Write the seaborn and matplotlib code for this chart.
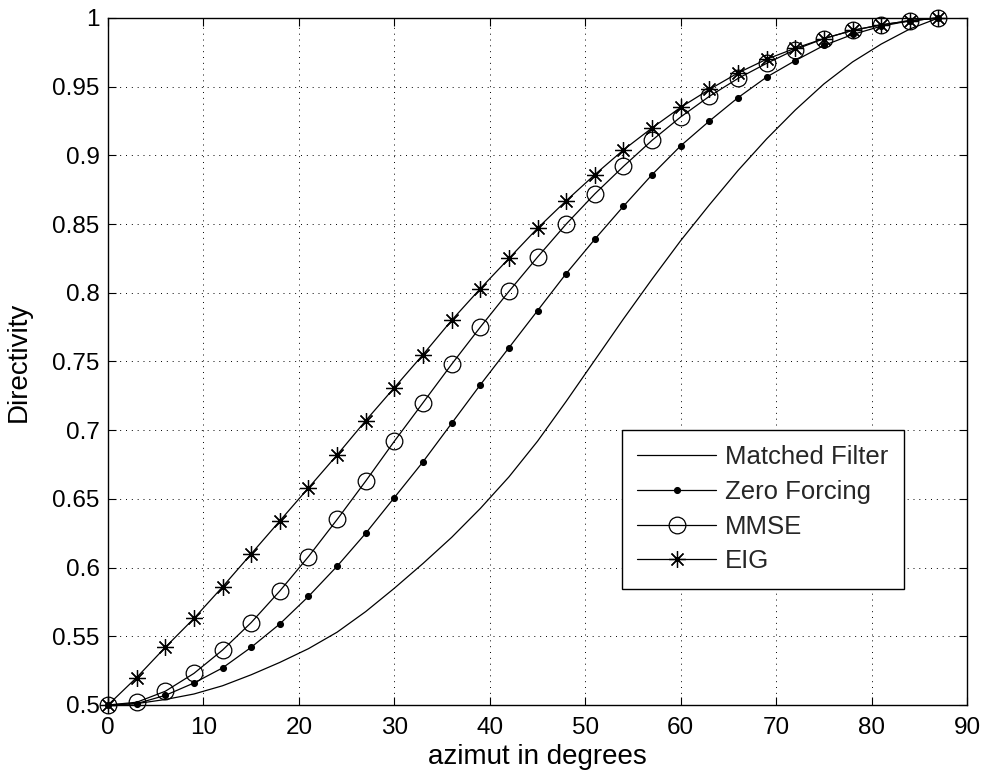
import matplotlib
matplotlib.use("Agg")
import matplotlib.pyplot as plt
import numpy as np
import pandas as pd
import seaborn as sns

# Azimuth samples (degrees)
azimut = [0, 3, 6, 9, 12, 15, 18, 21, 24, 27, 30, 33, 36, 39, 42,
          45, 48, 51, 54, 57, 60, 63, 66, 69, 72, 75, 78, 81, 84, 87]

# Directivity of each beamformer
matched_filter = [0.500, 0.501, 0.504, 0.508, 0.514, 0.522, 0.531, 0.541, 0.553, 0.568,
                  0.585, 0.603, 0.622, 0.643, 0.666, 0.692, 0.721, 0.751, 0.781, 0.810,
                  0.838, 0.864, 0.889, 0.912, 0.933, 0.952, 0.968, 0.981, 0.992, 1.000]
zero_forcing = [0.500, 0.501, 0.507, 0.516, 0.527, 0.542, 0.559, 0.579, 0.601, 0.625,
                0.651, 0.677, 0.705, 0.733, 0.760, 0.787, 0.814, 0.839, 0.863, 0.886,
                0.907, 0.925, 0.942, 0.957, 0.969, 0.980, 0.988, 0.994, 0.998, 1.000]
mmse = [0.500, 0.502, 0.510, 0.523, 0.540, 0.560, 0.583, 0.608, 0.635, 0.663,
        0.692, 0.720, 0.748, 0.775, 0.801, 0.826, 0.850, 0.872, 0.892, 0.911,
        0.928, 0.943, 0.956, 0.967, 0.977, 0.985, 0.991, 0.995, 0.998, 1.000]
eig = [0.500, 0.520, 0.542, 0.563, 0.586, 0.610, 0.634, 0.658, 0.682, 0.707,
       0.731, 0.755, 0.780, 0.803, 0.825, 0.847, 0.867, 0.886, 0.904, 0.920,
       0.935, 0.948, 0.960, 0.970, 0.978, 0.985, 0.991, 0.995, 0.998, 1.000]

x_ticks = [0, 10, 20, 30, 40, 50, 60, 70, 80, 90]
y_ticks = [0.5, 0.55, 0.6, 0.65, 0.7, 0.75, 0.8, 0.85, 0.9, 0.95, 1.0]

sns.set_theme(style="white")
plt.rcParams["font.family"] = ["Liberation Sans", "DejaVu Sans"]
plt.rcParams["xtick.direction"] = "in"
plt.rcParams["ytick.direction"] = "in"

fig = plt.figure(figsize=(9.93, 7.72), dpi=100)
ax = fig.add_axes([0.1088, 0.0868, 0.8651, 0.8899])

df = pd.DataFrame({"azimut": azimut, "Matched Filter": matched_filter,
                   "Zero Forcing": zero_forcing, "MMSE": mmse, "EIG": eig})

styles = {
    "Matched Filter": dict(marker=None),
    "Zero Forcing": dict(marker="o", markersize=4.2, markerfacecolor="black"),
    "MMSE": dict(marker="o", markersize=12, markerfacecolor="none"),
    "EIG": dict(marker=(8, 2, 0), markersize=12, markerfacecolor="none"),
}
for name, st in styles.items():
    sns.lineplot(data=df, x="azimut", y=name, ax=ax, color="black", lw=0.9,
                 label=name, markeredgecolor="black", markeredgewidth=0.9,
                 errorbar=None, clip_on=False, **st)

ax.set_xlim(0, 90)
ax.set_ylim(0.5, 1.0)
ax.set_xticks(x_ticks)
ax.set_yticks(y_ticks)
ax.set_xticklabels([f"{v:g}" for v in x_ticks])
ax.set_yticklabels([f"{v:g}" for v in y_ticks])
ax.tick_params(axis="both", which="both", labelsize=17.5, length=6, width=0.8,
               color="black", top=True, right=True, bottom=True, left=True,
               labelcolor="black")
ax.tick_params(axis="x", pad=9)
ax.tick_params(axis="y", pad=6)
ax.grid(True, color="black", linestyle=(0, (1, 5)), linewidth=0.7)
for sp in ax.spines.values():
    sp.set_color("black")
    sp.set_linewidth(1.0)

ax.set_xlabel("azimut in degrees", fontsize=20, labelpad=3, color="black")
ax.set_ylabel("Directivity", fontsize=20, color="black")
ax.yaxis.set_label_coords(-0.089, 0.5)

leg = ax.legend(loc="lower left", bbox_to_anchor=(0.598, 0.169), borderaxespad=0,
                fontsize=18.5, frameon=True, fancybox=False, edgecolor="black",
                framealpha=1, handlelength=3.07, handletextpad=0.35,
                labelspacing=0.42, borderpad=0.6)
leg.get_frame().set_linewidth(1.0)

fig.savefig("out.png", dpi=100, facecolor="white")
